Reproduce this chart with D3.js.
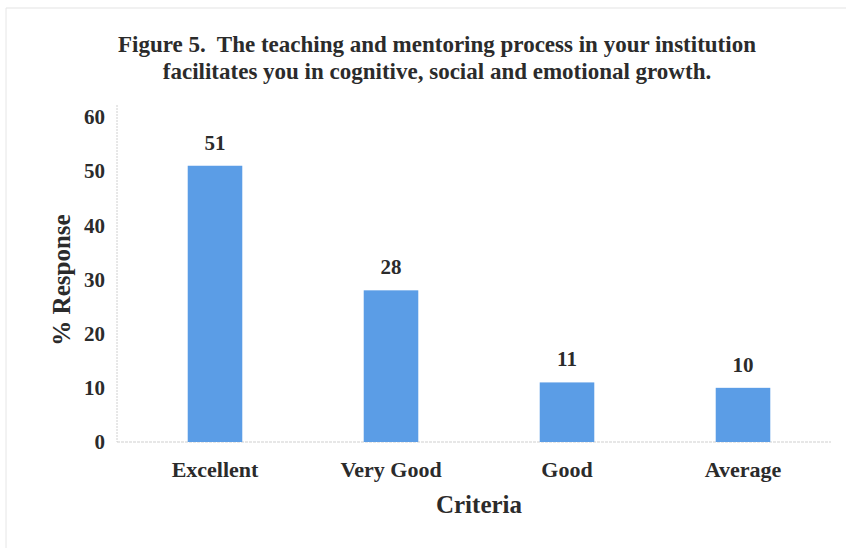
<!DOCTYPE html>
<html>
<head>
<meta charset="utf-8">
<script src="https://cdn.jsdelivr.net/npm/d3@7"></script>
<style>
  body { margin: 0; background: #fff; }
  text { font-family: "Liberation Serif", "DejaVu Serif", serif; font-weight: bold; fill: #2b2b2b; }
</style>
</head>
<body>
<div id="chart"></div>
<script>
const categories = ["Excellent", "Very Good", "Good", "Average"];
const responses = [51, 28, 11, 10];
const yTicks = [0, 10, 20, 30, 40, 50, 60];
const titleLines = [
  "Figure 5.  The teaching and mentoring process in your institution",
  "facilitates you in cognitive, social and emotional growth."
];

const width = 848, height = 548;

let svg = d3.select("#chart")
  .append("svg")
  .attr("width", width)
  .attr("height", height);

// faint frame of the scanned figure
svg.append("line")
  .attr("x1", 6).attr("x2", 846).attr("y1", 8).attr("y2", 8)
  .style("stroke", "#e3e3e3").style("stroke-width", 1);
svg.append("line")
  .attr("x1", 6).attr("x2", 6).attr("y1", 8).attr("y2", 548)
  .style("stroke", "#e6e6e6").style("stroke-width", 1);

// title (keep the double space after "Figure 5.")
svg.selectAll(".title")
  .data(titleLines)
  .enter().append("text")
  .attr("class", "title")
  .attr("x", 437)
  .attr("y", (d, i) => 52 + i * 27)
  .attr("text-anchor", "middle")
  .style("font-size", "23px")
  .style("white-space", "pre")
  .text(d => d);

// scales
let x = d3.scaleBand()
  .domain(categories)
  .range([127, 831])
  .paddingInner(0.69)
  .paddingOuter(0.345);

let y = d3.scaleLinear()
  .domain([0, 60])
  .range([442, 117]);

// axis lines
svg.append("line")
  .attr("x1", 117).attr("x2", 117)
  .attr("y1", 105).attr("y2", y(0))
  .style("stroke", "#d0d0d0").style("stroke-dasharray", "2,1");
svg.append("line")
  .attr("x1", 117).attr("x2", 831)
  .attr("y1", y(0)).attr("y2", y(0))
  .style("stroke", "#cfcfcf").style("stroke-dasharray", "3,1");

// y axis tick labels
let yAxis = svg.append("g")
  .attr("transform", "translate(105,0)")
  .call(d3.axisLeft(y).tickValues(yTicks).tickSize(0).tickPadding(0));
yAxis.select(".domain").remove();
yAxis.selectAll("text")
  .style("font-size", "21px")
  .style("font-family", "'Liberation Serif', serif")
  .attr("fill", "#2b2b2b");

// bars
svg.selectAll(".bar")
  .data(responses)
  .enter().append("rect")
  .attr("class", "bar")
  .attr("x", (d, i) => x(categories[i]))
  .attr("y", d => y(d))
  .attr("width", x.bandwidth())
  .attr("height", d => y(0) - y(d))
  .style("fill", "#5b9de6");

// value labels
svg.selectAll(".value")
  .data(responses)
  .enter().append("text")
  .attr("class", "value")
  .attr("x", (d, i) => x(categories[i]) + x.bandwidth() / 2)
  .attr("y", d => y(d) - 16)
  .attr("text-anchor", "middle")
  .style("font-size", "21px")
  .text(d => d);

// category labels
let xAxis = svg.append("g")
  .attr("transform", `translate(0,${y(0)})`)
  .call(d3.axisBottom(x).tickSize(0).tickPadding(0));
xAxis.select(".domain").remove();
xAxis.selectAll("text")
  .attr("dy", "35px")
  .style("font-size", "22px")
  .style("font-family", "'Liberation Serif', serif")
  .attr("fill", "#2b2b2b");

// axis titles
svg.append("text")
  .attr("x", 479)
  .attr("y", 513)
  .attr("text-anchor", "middle")
  .style("font-size", "25px")
  .text("Criteria");

svg.append("text")
  .attr("transform", "translate(70,280) rotate(-90)")
  .attr("text-anchor", "middle")
  .style("font-size", "25px")
  .text("% Response");
</script>
</body>
</html>
